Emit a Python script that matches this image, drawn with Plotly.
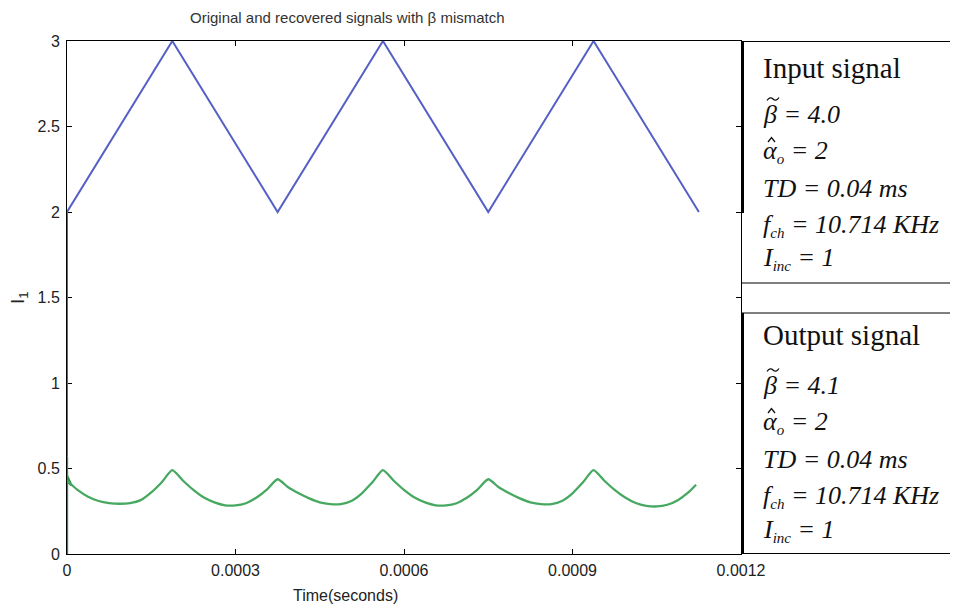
import plotly.graph_objects as go

# ---------------- data ----------------
x_tick_vals = [0, 0.0003, 0.0006, 0.0009, 0.0012]
x_tick_text = ["0", "0.0003", "0.0006", "0.0009", "0.0012"]
y_tick_vals = [0, 0.5, 1, 1.5, 2, 2.5, 3]
y_tick_text = ["0", "0.5", "1", "1.5", "2", "2.5", "3"]

# input (original) signal: triangle wave, time in microseconds
input_t_us = [0, 0, 187.5, 375, 562.5, 750, 937.5, 1125]
input_v = [0.57, 2.0, 3.0, 2.0, 3.0, 2.0, 3.0, 2.0]

# recovered signal: start-up transient at t = 0 (microseconds)
output_start_t_us = [0, 0, 0, 8, 0]
output_start_v = [0.0, 0.57, 0.46, 0.40, 0.43]

# recovered signal, time in microseconds
output_t_us = [0,
               18.75, 37.5, 56.25, 75, 93.75, 112.5, 131.25, 150, 168.75, 187.5,
               206.25, 225, 243.75, 262.5, 281.25, 300, 318.75, 337.5, 356.25, 375,
               393.75, 412.5, 431.25, 450, 468.75, 487.5, 506.25, 525, 543.75, 562.5,
               581.25, 600, 618.75, 637.5, 656.25, 675, 693.75, 712.5, 731.25, 750,
               768.75, 787.5, 806.25, 825, 843.75, 862.5, 881.25, 900, 918.75, 937.5,
               956.25, 975, 993.75, 1012.5, 1031.25, 1050, 1068.75, 1087.5, 1106.25, 1120]
output_v = [0.43,
            0.375, 0.335, 0.31, 0.298, 0.294, 0.298, 0.315, 0.36, 0.42, 0.49,
            0.43, 0.375, 0.33, 0.302, 0.285, 0.284, 0.297, 0.33, 0.378, 0.437,
            0.39, 0.355, 0.325, 0.302, 0.292, 0.292, 0.31, 0.355, 0.42, 0.49,
            0.43, 0.375, 0.33, 0.302, 0.285, 0.284, 0.297, 0.33, 0.378, 0.437,
            0.39, 0.355, 0.325, 0.302, 0.292, 0.292, 0.31, 0.355, 0.42, 0.49,
            0.43, 0.375, 0.33, 0.298, 0.282, 0.278, 0.288, 0.315, 0.36, 0.405]

SUB = '<sub><span style="font-size:15px">{}</span></sub>'
input_params = ["<i>β = 4.0</i>", "<i>α" + SUB.format("o") + " = 2</i>", "<i>TD = 0.04 ms</i>",
                "<i>f" + SUB.format("ch") + " = 10.714 KHz</i>", "<i>I" + SUB.format("inc") + " = 1</i>"]
output_params = ["<i>β = 4.1</i>", "<i>α" + SUB.format("o") + " = 2</i>", "<i>TD = 0.04 ms</i>",
                 "<i>f" + SUB.format("ch") + " = 10.714 KHz</i>", "<i>I" + SUB.format("inc") + " = 1</i>"]

# ---------------- figure ----------------
# page has an 8px body margin, so the figure is placed at (8, 8)
W, H = 950, 601
L, T = 59, 33
PW, PH = 674, 513
R = W - L - PW
B = H - T - PH

# plot area on the page: x 67..741, y 41..554


def X(px):
    return (px - 67) / PW


def Y(py):
    return (554 - py) / PH


fig = go.Figure()
fig.add_trace(go.Scatter(x=[t / 1e6 for t in input_t_us], y=input_v, mode="lines",
                         line=dict(color="#5560c4", width=2), showlegend=False))
fig.add_trace(go.Scatter(x=[t / 1e6 for t in output_start_t_us], y=output_start_v, mode="lines",
                         line=dict(color="#2f8f48", width=2.3), showlegend=False))
fig.add_trace(go.Scatter(x=[t / 1e6 for t in output_t_us], y=output_v, mode="lines",
                         line=dict(color="#47a961", width=2.3, shape="spline", smoothing=0.6),
                         showlegend=False))

axis_common = dict(showgrid=False, zeroline=False, showline=True, linecolor="black",
                   linewidth=1, mirror="ticks", ticks="inside", ticklen=5,
                   tickcolor="black", layer="below traces",
                   tickfont=dict(family="Liberation Sans, Arial", size=16, color="#222"))
fig.update_xaxes(range=[0, 0.0012], tickvals=x_tick_vals, ticktext=x_tick_text,
                 ticklabelstandoff=2, **axis_common)
fig.update_yaxes(range=[0, 3], tickvals=y_tick_vals, ticktext=y_tick_text,
                 ticklabelstandoff=3, **axis_common)

shapes = []
line_k = dict(color="black", width=1.2)
for py in [41.5, 283, 313, 553.5]:
    shapes.append(dict(type="line", xref="paper", yref="paper", x0=X(741), x1=X(975),
                       y0=Y(py), y1=Y(py), line=line_k, layer="above"))
shapes.append(dict(type="line", xref="paper", yref="paper", x0=X(742.5), x1=X(742.5),
                   y0=Y(41.5), y1=Y(213), line=dict(color="black", width=3), layer="above"))
shapes.append(dict(type="line", xref="paper", yref="paper", x0=X(742.5), x1=X(742.5),
                   y0=Y(313), y1=Y(554), line=dict(color="black", width=3), layer="above"))


def P(px, py):
    return "{:.5f},{:.5f}".format(X(px), Y(py))


ink = "#111"
beta_rows = [114, 385]
alpha_rows = [151, 422]
for yb in beta_rows:
    y = yb - 15
    path = "M {} Q {} {} T {}".format(P(767, y + 1.5), P(770, y - 3), P(773, y), P(779, y - 1.5))
    shapes.append(dict(type="path", xref="paper", yref="paper", path=path,
                       line=dict(color=ink, width=1.3), layer="above"))
for ya in alpha_rows:
    y = ya - 12
    path = "M {} L {} L {}".format(P(768, y + 3), P(771.5, y - 1.5), P(775, y + 3))
    shapes.append(dict(type="path", xref="paper", yref="paper", path=path,
                       line=dict(color=ink, width=1.3), layer="above"))

ann = []
ann.append(dict(text="Original and recovered signals with β mismatch", x=X(347), y=Y(17),
                xanchor="center", yanchor="middle",
                font=dict(family="Liberation Sans, Arial", size=15, color="#333")))
ann.append(dict(text="Time(seconds)", x=X(345), y=Y(595), xanchor="center", yanchor="middle",
                font=dict(family="Liberation Sans, Arial", size=16, color="#222")))
ann.append(dict(text="I<sub>1</sub>", x=X(19), y=Y(298), xanchor="center", yanchor="middle",
                textangle=-90, font=dict(family="Liberation Sans, Arial", size=19, color="#222")))

serif = "Liberation Serif, Times New Roman, serif"
ann.append(dict(text="Input signal", x=X(761), y=Y(68), xanchor="left", yanchor="middle",
                font=dict(family=serif, size=29, color=ink)))
ann.append(dict(text="Output signal", x=X(761), y=Y(335), xanchor="left", yanchor="middle",
                font=dict(family=serif, size=29, color=ink)))
for params, rows in [(input_params, [114, 151, 188, 225, 258]),
                     (output_params, [385, 422, 459, 496, 530])]:
    for txt, py in zip(params, rows):
        ann.append(dict(text=txt, x=X(761), y=Y(py), xanchor="left", yanchor="middle",
                        font=dict(family=serif, size=26, color=ink)))
for a in ann:
    a.update(xref="paper", yref="paper", showarrow=False)

fig.update_layout(width=W, height=H, margin=dict(l=L, r=R, t=T, b=B),
                  plot_bgcolor="white", paper_bgcolor="white",
                  shapes=shapes, annotations=ann)

fig.write_html("out.html")
